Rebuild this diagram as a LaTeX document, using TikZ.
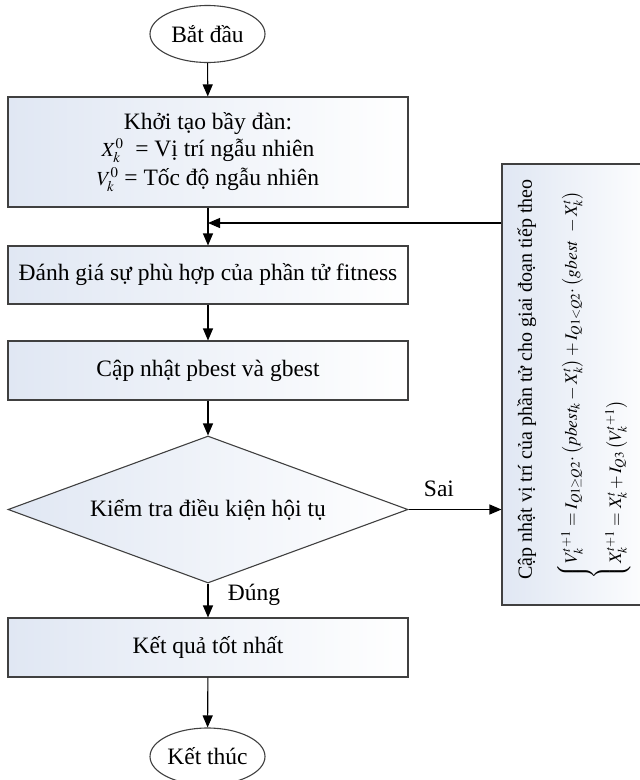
\documentclass[tikz,border=0pt]{standalone}
\usepackage{amsmath}
\usepackage{mathptmx}
\usepackage[no-math]{fontspec}
\setmainfont{Liberation Serif}
\usetikzlibrary{arrows.meta, shapes.geometric}

\definecolor{boxtint}{RGB}{224,231,243}

\newcommand{\smallmath}[1]{{\fontsize{20}{24}\selectfont$#1$}}

\begin{document}
\begin{tikzpicture}[
	x=1pt, y=-1pt,
	font=\fontsize{23.5}{26}\selectfont,
	block/.style={draw=black!75, line width=1.1pt, rectangle, minimum width=400pt, minimum height=59pt, align=center, left color=boxtint, right color=white, inner sep=0pt},
	term/.style={draw=black!75, line width=1.1pt, ellipse, minimum width=115pt, minimum height=57pt, fill=white, inner sep=0pt},
	decision/.style={draw=black!75, line width=1.1pt, diamond, aspect=2.7, minimum width=400pt, minimum height=147pt, left color=boxtint, right color=white, inner sep=0pt},
	arrow/.style={-{Triangle[length=12pt, width=10pt]}, line width=1.1pt},
	label/.style={font=\fontsize{23.5}{26}\selectfont}
	]
	\useasboundingbox (0,0) rectangle (640,780);
	\clip (0,0) rectangle (640,780);
	
	% ======================
	% Hauptablauf
	% ======================
	\node[term] (start) at (207.5,34) {Bắt đầu};
	
	\node[block, minimum height=110pt] (init) at (208,152) {Khởi tạo bầy đàn:\\[1pt] \smallmath{X_k^0}\ \ = Vị trí ngẫu nhiên\\[3pt] \smallmath{V_k^0} = Tốc độ ngẫu nhiên};
	
	\coordinate (fb) at (208,223);
	
	\node[block, minimum height=58pt] (fit) at (208,275) {Đánh giá sự phù hợp của phần tử fitness};
	\node[block] (best) at (208,370.5) {Cập nhật pbest và gbest};
	
	\node[decision] (check) at (208,509.5) {Kiểm tra điều kiện hội tụ};
	
	\node[block] (result) at (208,647.5) {Kết quả tốt nhất};
	\node[term] (stop) at (207.5,756.5) {Kết thúc};
	
	\draw[arrow] (start) -- (init);
	\draw[arrow] (init) -- (fit);
	\draw[arrow] (fit) -- (best);
	\draw[arrow] (best) -- (check);
	\draw[arrow] (check) -- (result);
	\draw[arrow] (result) -- (stop);
	
	\node[label] (yes) at (254,595) {Đúng};
	
	% ======================
	% Rueckfuehrung
	% ======================
	\node[draw=black!75, line width=1.1pt, rectangle, minimum width=158pt, minimum height=441pt, left color=boxtint, right color=white] (upd) at (581,384.5) {};
	
	\node[rotate=90, align=left, inner sep=0pt, font=\fontsize{20}{24}\selectfont] (updtext) at (574,376) {Cập nhật vị trí của phần tử cho giai đoạn tiếp theo\\[20pt]
		{\fontsize{17.5}{21}\selectfont$\begin{cases}
			V_k^{t+1} = I_{Q1\ge Q2}{\cdot}\left(pbest_k - X_k^t\right) + I_{Q1<Q2}{\cdot}\left(gbest\;\, - X_k^t\right)\\[19pt]
			X_k^{t+1} = X_k^t + I_{Q3}\left(V_k^{t+1}\right)
		\end{cases}$}};
	
	\node[label] (no) at (439,489) {Sai};
	
	\draw[arrow] (check.east) -- (check.east -| upd.west);
	\draw[arrow] (upd.west |- fb) -- (fb);
	
\end{tikzpicture}
\end{document}
